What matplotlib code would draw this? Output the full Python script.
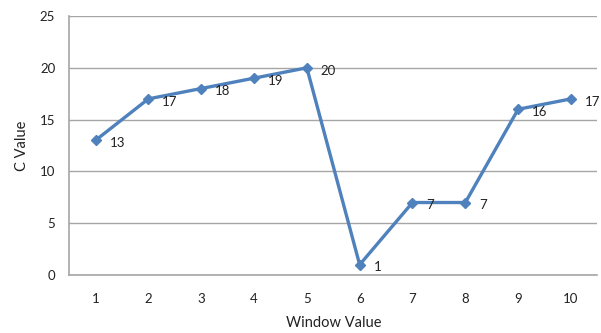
import matplotlib
matplotlib.use("Agg")
import matplotlib.pyplot as plt

plt.rcParams['font.family'] = ['Lato', 'DejaVu Sans']

windows = [1, 2, 3, 4, 5, 6, 7, 8, 9, 10]
c_values = [13, 17, 18, 19, 20, 1, 7, 7, 16, 17]
y_ticks = [0, 5, 10, 15, 20, 25]

fig = plt.figure(figsize=(6.01, 3.33), dpi=100)
ax = fig.add_axes([0.115, 0.174, 0.879, 0.778])

line_color = '#4F81BD'
ax.plot(windows, c_values, color=line_color, linewidth=2.4,
        marker='D', markersize=5.5, zorder=3)

for x, y in zip(windows, c_values):
    ax.annotate(str(y), (x, y), xytext=(10, -2), textcoords='offset points',
                fontsize=9.5, color='#222222', va='center', ha='left',
                annotation_clip=False)

ax.set_xlim(0.5, 10.5)
ax.set_ylim(0, 25)
ax.set_xticks(windows)
ax.set_yticks(y_ticks)
ax.tick_params(axis='both', length=0, labelsize=9.5, colors='#222222')
ax.tick_params(axis='x', pad=13)
ax.tick_params(axis='y', pad=10)

ax.grid(axis='y', color='#A6A6A6', linewidth=1)
ax.set_axisbelow(True)
for side in ['top', 'right']:
    ax.spines[side].set_visible(False)
for side in ['left', 'bottom']:
    ax.spines[side].set_color('#A6A6A6')
    ax.spines[side].set_linewidth(1.2)

ax.set_xlabel('Window Value', fontsize=10.5, color='#222222', labelpad=8)
ax.set_ylabel('C Value', fontsize=10.5, color='#222222', labelpad=8)

fig.savefig('out.png', dpi=100)
